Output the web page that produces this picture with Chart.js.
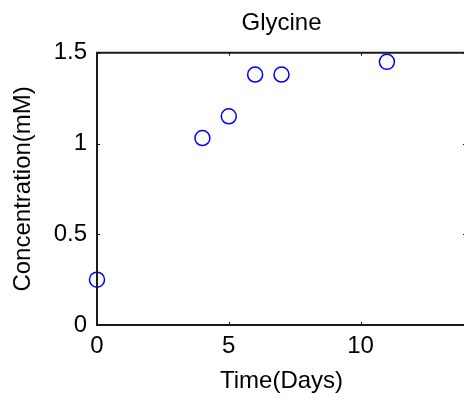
<!DOCTYPE html>
<html>
<head>
<meta charset="utf-8">
<script src="https://cdn.jsdelivr.net/npm/chart.js@4.4.1/dist/chart.umd.min.js"></script>
<style>
  html, body { margin: 0; padding: 0; background: #fff; overflow: hidden; width: 464px; height: 402px; }
  canvas { display: block; }
</style>
</head>
<body>
<div style="width:480px;height:402px;position:relative">
<canvas id="c" width="480" height="402" style="width:480px;height:402px"></canvas>
</div>
<script>
const chartTitle = 'Glycine';
const xAxisTitle = 'Time(Days)';
const yAxisTitle = 'Concentration(mM)';
const days = [0, 4, 5, 6, 7, 11];
const glycine = [0.25, 1.03, 1.15, 1.38, 1.38, 1.45];
const xTicks = [0, 5, 10];
const yTicks = [0, 0.5, 1, 1.5];
const xRange = [0, 14];
const yRange = [0, 1.5];

const FONT = "'Liberation Sans', Arial, Helvetica, sans-serif";
const FS = 24;

const boxPlugin = {
  id: 'matlabBox',
  afterDraw(chart) {
    const ctx = chart.ctx;
    const a = chart.chartArea;
    const xs = chart.scales.x, ys = chart.scales.y;
    const tl = 3;
    ctx.save();
    ctx.strokeStyle = '#111';
    ctx.lineWidth = 1;
    ctx.beginPath();
    xs.ticks.forEach(t => {
      const p = Math.round(xs.getPixelForValue(t.value)) + 0.5;
      ctx.moveTo(p, a.bottom); ctx.lineTo(p, a.bottom - tl);
      ctx.moveTo(p, a.top); ctx.lineTo(p, a.top + tl);
    });
    ys.ticks.forEach(t => {
      const p = Math.round(ys.getPixelForValue(t.value)) + 0.5;
      ctx.moveTo(a.left, p); ctx.lineTo(a.left + tl, p);
      ctx.moveTo(a.right, p); ctx.lineTo(a.right - tl, p);
    });
    ctx.stroke();
    ctx.lineWidth = 2;
    ctx.strokeStyle = '#1a1a1a';
    ctx.beginPath();
    ctx.moveTo(a.right, a.top);
    ctx.lineTo(a.left, a.top);
    ctx.lineTo(a.left, a.bottom);
    ctx.lineTo(a.right, a.bottom);
    ctx.stroke();
    ctx.restore();
  }
};

new Chart(document.getElementById('c'), {
  type: 'scatter',
  data: {
    datasets: [{
      data: days.map((d, i) => ({ x: d, y: glycine[i] })),
      showLine: false,
      pointStyle: 'circle',
      pointRadius: 7.5,
      pointHoverRadius: 7.5,
      pointBorderWidth: 1.5,
      borderColor: '#0000ff',
      backgroundColor: 'rgba(0,0,0,0)',
      clip: false
    }]
  },
  options: {
    responsive: false,
    animation: false,
    events: [],
    layout: { padding: { left: 0, right: 14, top: 0, bottom: 0 } },
    plugins: {
      legend: { display: false },
      tooltip: { enabled: false },
      title: {
        display: true,
        fullSize: false,
        text: chartTitle,
        color: '#000',
        font: { family: FONT, size: FS, weight: 'normal', lineHeight: 1.2 },
        padding: { top: 9, bottom: 15 }
      }
    },
    scales: {
      x: {
        type: 'linear',
        min: xRange[0], max: xRange[1],
        grid: { display: false, drawTicks: false },
        border: { display: false },
        afterBuildTicks: s => { s.ticks = xTicks.map(v => ({ value: v })); },
        afterFit: s => { s.height = 77; },
        ticks: {
          color: '#000',
          padding: 7,
          maxRotation: 0,
          font: { family: FONT, size: FS, lineHeight: 1.2 },
          callback: v => String(v)
        },
        title: {
          display: true,
          text: xAxisTitle,
          color: '#000',
          font: { family: FONT, size: FS, lineHeight: 1.2 },
          padding: { top: 0, bottom: 6 }
        }
      },
      y: {
        type: 'linear',
        min: yRange[0], max: yRange[1],
        grid: { display: false, drawTicks: false },
        border: { display: false },
        afterBuildTicks: s => { s.ticks = yTicks.map(v => ({ value: v })); },
        afterFit: s => { s.width = 97; },
        ticks: {
          color: '#000',
          padding: 10,
          font: { family: FONT, size: FS, lineHeight: 1.2 },
          callback: v => String(v)
        },
        title: {
          display: true,
          text: yAxisTitle,
          color: '#000',
          font: { family: FONT, size: FS, lineHeight: 1.2 },
          padding: { top: 9, bottom: 0 }
        }
      }
    }
  },
  plugins: [boxPlugin]
});
</script>
</body>
</html>
